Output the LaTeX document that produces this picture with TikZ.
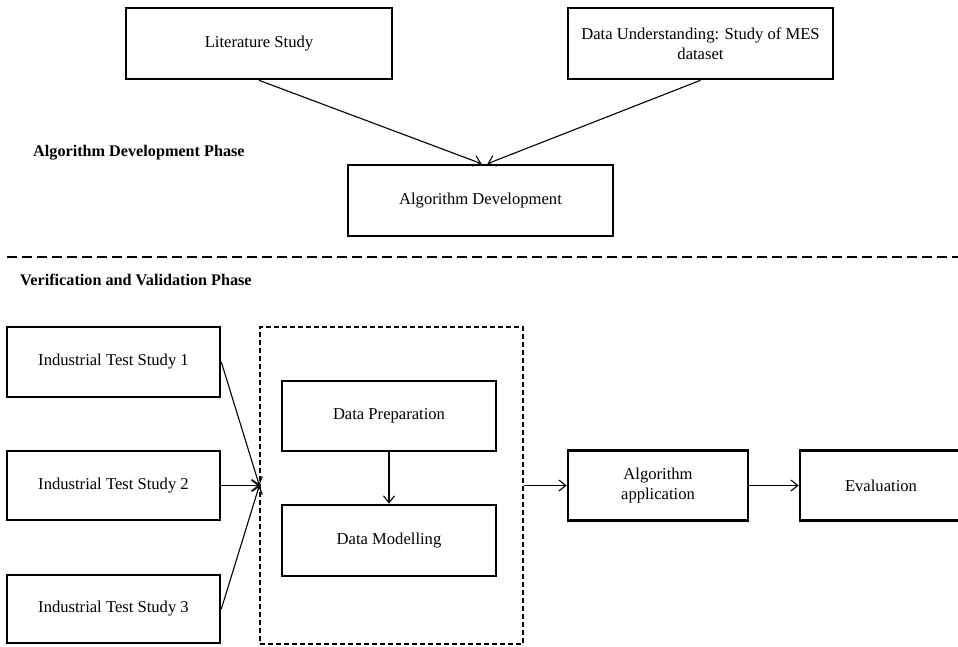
\documentclass[tikz,border=0pt]{standalone}
\usepackage{fontspec}
\setmainfont{Liberation Serif}
\usetikzlibrary{arrows.meta}
\begin{document}
\begin{tikzpicture}[x=1pt,y=-1pt,
  box/.style={draw=black,line width=2.6pt,rectangle,inner sep=2pt,align=center,
    font=\fontsize{16.6}{19.5}\selectfont},
  heading/.style={anchor=west,inner sep=0pt,font=\bfseries\fontsize{16.2}{19}\selectfont},
  arr/.style={line width=1.1pt,-{Straight Barb[length=7pt,width=11pt,line width=1.1pt]}},
  groupbox/.style={draw=black,line width=1.3pt,dash pattern=on 5pt off 3pt,rectangle}]
\useasboundingbox (0,0) rectangle (958,647);
\fill[white] (0,0) rectangle (958,647);

% top phase
\node[box,minimum width=266pt,minimum height=71pt] (lit) at (259,43.5) {Literature Study};
\node[box,minimum width=265pt,minimum height=71pt] (du) at (700.5,43.5) {Data Understanding: Study of MES\\dataset};
\node[box,minimum width=265pt,minimum height=71pt] (ad) at (480.5,200.5) {Algorithm Development};
\node[heading] (h1) at (33,153) {Algorithm Development Phase};

\draw[arr] (lit.south) -- ([xshift=1pt]ad.north);
\draw[arr] (du.south) -- ([xshift=7pt]ad.north);

% separator
\draw[line width=1.8pt,dash pattern=on 10pt off 5pt] (7,257) -- (958,257);

% bottom phase
\node[heading] (h2) at (20,280) {Verification and Validation Phase};

\node[groupbox,minimum width=263pt,minimum height=317pt] (grp) at (391.5,485.5) {};
\node[box,minimum width=213pt,minimum height=70pt] (its1) at (113.5,362) {Industrial Test Study 1};
\node[box,minimum width=213pt,minimum height=69pt] (its2) at (113.5,485.5) {Industrial Test Study 2};
\node[box,minimum width=213pt,minimum height=68pt] (its3) at (113.5,609) {Industrial Test Study 3};

\node[box,minimum width=214pt,minimum height=70pt] (dp) at (389,416) {Data Preparation};
\node[box,minimum width=214pt,minimum height=71pt] (dm) at (389,540.5) {Data Modelling};

\node[box,minimum width=180pt,minimum height=70pt] (aa) at (658,485.5) {Algorithm\\application};
\node[box,minimum width=162pt,minimum height=70pt] (ev) at (881,485.5) {Evaluation};

\draw[arr] (its1.east) -- (grp.west);
\draw[arr] (its2.east) -- (grp.west);
\draw[arr] (its3.east) -- (grp.west);
\draw[arr] (dp.south) -- (dm.north);
\draw[arr] (grp.east) -- (aa.west);
\draw[arr] (aa.east) -- (ev.west);
\end{tikzpicture}
\end{document}
